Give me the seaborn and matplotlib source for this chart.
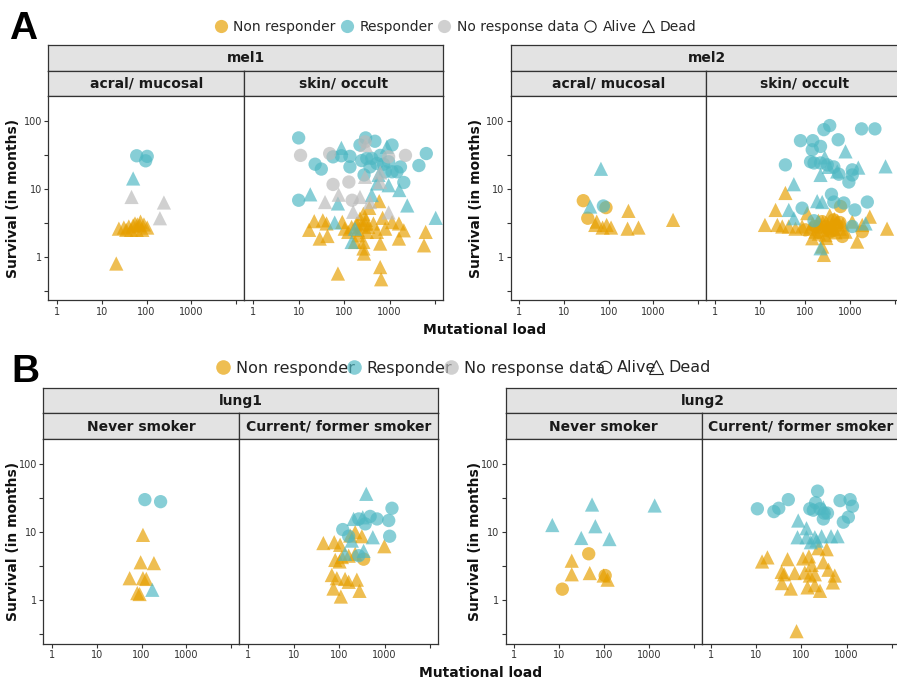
import numpy as np
import pandas as pd
import matplotlib
matplotlib.use("Agg")
import matplotlib.pyplot as plt
import seaborn as sns
from matplotlib.lines import Line2D
from matplotlib.ticker import FixedLocator, FixedFormatter, NullLocator

# ---------------- data: (mutational load, survival in months) ----------------
mel1_acral_nr_dead = [(21, 0.8), (24, 2.6), (31, 2.7), (40, 2.8), (50, 2.9), (62, 3.0), (73, 3.3),
                      (87, 3.0), (103, 2.7), (45, 2.5), (60, 2.5), (80, 2.5), (35, 2.5), (70, 2.9), (55, 3.1)]
mel1_acral_r_alive = [(60, 30.6), (103, 30), (95, 25.8)]
mel1_acral_r_dead = [(50, 14.2)]
mel1_acral_na_dead = [(46, 7.6), (243, 6.3), (198, 3.7)]

mel1_skin_r_alive = [(10, 56), (10, 6.8), (23, 23), (31.5, 19.5), (57, 29.5), (87, 30.6), (134, 30), (134, 21),
                     (223, 44), (297, 56), (475, 50), (620, 31), (405, 28), (315, 28), (243, 26), (525, 23.6),
                     (370, 21), (274, 16), (1130, 44), (950, 25), (1730, 21), (1450, 17.8), (2050, 12.4),
                     (4400, 22), (6400, 33), (735, 23), (800, 17.8), (1130, 17.8)]
mel1_skin_r_dead = [(18, 8.3), (87, 40), (73, 6.1), (62, 3.2), (146, 1.66), (525, 12), (570, 16), (870, 41.5),
                    (950, 11.3), (1630, 9.6), (2440, 5.7), (10300, 3.75), (405, 8.1), (173, 2.6)]
mel1_skin_na_alive = [(11, 31), (48, 33), (57, 11.6), (127, 12.6), (150, 6.8), (2230, 31), (288, 49), (950, 29.5)]
mel1_skin_na_dead = [(38, 6.4), (76, 8.2), (158, 4.6), (223, 7.6), (288, 15), (620, 12.6), (370, 6.4),
                     (950, 4.5), (297, 44), (620, 17.4)]
mel1_skin_nr_dead = [(17, 2.5), (22, 3.35), (29, 1.86), (43, 2.03), (34, 3.45), (41, 3.1), (73, 0.57), (91, 3.27),
                     (103, 2.6), (123, 2.33), (146, 2.76), (188, 3.1), (223, 3.66), (265, 4.3), (288, 3.1),
                     (340, 2.76), (205, 2.08), (265, 1.66), (274, 1.12), (265, 1.33), (440, 3.1), (525, 2.33),
                     (620, 1.57), (620, 0.71), (650, 0.47), (590, 6.6), (357, 5.25), (700, 3.75), (800, 2.6),
                     (1130, 3.25), (1600, 3.1), (2050, 2.46), (1600, 1.86), (6200, 2.33), (5700, 1.48),
                     (315, 2.33), (173, 1.66), (240, 2.9), (300, 3.5), (200, 2.5)]

mel2_acral_r_alive = [(76, 5.6)]
mel2_acral_r_dead = [(67, 19.7), (38.5, 5.5)]
mel2_acral_nr_alive = [(27, 6.7), (34, 3.7), (87, 5.3)]
mel2_acral_nr_dead = [(54, 3.3), (50, 2.95), (73, 2.7), (90, 2.95), (113, 2.7), (277, 4.75), (265, 2.6),
                      (465, 2.7), (2770, 3.5)]

mel2_skin_r_alive = [(37, 22.5), (80, 51), (150, 51), (146, 37.5), (223, 42), (265, 74), (357, 85), (550, 52.6),
                     (1820, 76), (3600, 76), (134, 25), (160, 24), (223, 24), (315, 22.5), (440, 21), (570, 16.4),
                     (950, 12.6), (1130, 16), (1130, 19), (390, 8.3), (440, 6.4), (735, 6.2), (1290, 4.9),
                     (2440, 6.4), (87, 5.2), (160, 3.4), (1130, 2.8)]
mel2_skin_r_dead = [(57, 11.7), (223, 16), (277, 29), (800, 35.5), (1540, 20.5), (6200, 21.4), (44, 4.9),
                    (188, 6.6), (243, 6.4), (57, 3.7), (223, 1.34), (2230, 3.1), (340, 21), (525, 18)]
mel2_skin_nr_alive = [(620, 5.5), (173, 2.8), (288, 2.8), (370, 2.35), (680, 2.0), (103, 2.5), (440, 3.5),
                      (1880, 2.35), (243, 3.3), (330, 2.6), (520, 2.9), (200, 2.3), (600, 3.2)]
mel2_skin_nr_dead = [(13, 2.95), (22.4, 4.9), (37, 8.7), (24.5, 2.95), (31.5, 2.8), (44, 2.8), (62, 2.6),
                     (87, 2.8), (113, 4.4), (146, 1.88), (205, 2.2), (243, 1.42), (265, 1.07), (315, 2.8),
                     (440, 2.6), (357, 4.1), (525, 3.3), (800, 2.35), (1130, 3.3), (1450, 1.68), (1880, 2.95),
                     (2770, 3.9), (6700, 2.6), (223, 2.8), (173, 2.35), (288, 2.1), (150, 3.1), (250, 3.2),
                     (400, 3.0), (480, 2.3), (600, 2.6), (350, 2.5), (200, 3.4), (130, 2.6), (300, 1.9),
                     (700, 3.0), (450, 3.6)]

lung1_never_r_alive = [(118, 30), (265, 28)]
lung1_never_r_dead = [(173, 1.42)]
lung1_never_nr_dead = [(107, 9.1), (95, 3.6), (188, 3.5), (54, 2.1), (107, 2.1), (127, 2.05), (80, 1.27), (90, 1.23)]

lung1_smoker_r_alive = [(1450, 22.4), (1230, 14.8), (680, 15.6), (480, 17), (375, 13.2), (270, 15.6), (120, 10.9),
                        (1290, 8.7), (162, 8.7), (270, 4.5)]
lung1_smoker_r_dead = [(395, 36.5), (208, 15.6), (330, 16.5), (550, 8.4), (190, 7.5), (345, 5.3), (135, 4.8)]
lung1_smoker_nr_alive = [(345, 4.0)]
lung1_smoker_nr_dead = [(45, 6.9), (78, 7.1), (105, 6.5), (175, 8.9), (225, 10), (316, 8.7), (985, 6.2), (82, 3.9),
                        (115, 4.3), (162, 4.5), (225, 4.8), (102, 3.7), (69, 2.34), (89, 2.1), (135, 2.05),
                        (162, 1.86), (245, 2.0), (75, 1.48), (280, 1.37), (109, 1.13)]

lung2_never_r_dead = [(7, 12.7), (54, 25.4), (64, 12.2), (31, 8.2), (132, 7.9), (1350, 24.6)]
lung2_never_nr_alive = [(45.5, 4.8), (11.7, 1.45), (106, 2.3)]
lung2_never_nr_dead = [(19, 3.8), (19, 2.4), (48, 2.5), (120, 2.0), (98, 2.3)]

lung2_smoker_r_alive = [(10.8, 22), (25, 20), (32, 22.4), (52, 30), (230, 40), (208, 27), (185, 21), (260, 22),
                        (322, 19), (308, 15.6), (380, 19), (720, 29), (1200, 30), (1350, 24), (1100, 16.6),
                        (850, 14), (155, 22)]
lung2_smoker_r_dead = [(86, 14.8), (308, 23), (131, 11.4), (83, 8.4), (131, 8.4), (200, 8.4), (282, 8.7),
                       (455, 8.7), (635, 8.7), (163, 7.1), (218, 7.5)]
lung2_smoker_nr_dead = [(13.7, 3.7), (18, 4.25), (50, 4.0), (37, 2.6), (42, 2.4), (37.5, 1.78), (59, 1.48),
                        (79, 0.35), (72, 2.5), (110, 4.1), (148, 4.4), (170, 3.3), (120, 2.55), (155, 2.3),
                        (200, 2.4), (240, 5.8), (365, 5.6), (308, 3.6), (400, 2.8), (550, 2.3), (500, 1.82),
                        (200, 1.66), (260, 1.37), (138, 1.54)]

responses = ["Non responder", "Responder", "No response data"]
statuses = ["Alive", "Dead"]
x_ticks = [1, 10, 100, 1000, 10000]
x_labels = ["1", "10", "100", "1000", ""]
y_ticks = [10 ** -0.5, 1, 10 ** 0.5, 10, 10 ** 1.5, 100]
y_labels = ["", "1", "", "10", "", "100"]


def frame(groups):
    rows = []
    for resp, status, pts in groups:
        for load, surv in pts:
            rows.append({"load": load, "surv": surv, "resp": resp, "status": status})
    return pd.DataFrame(rows)


NR, R, NA = responses
facet_frames = {
    "mel1_a": frame([(NR, "Dead", mel1_acral_nr_dead), (R, "Alive", mel1_acral_r_alive),
                     (R, "Dead", mel1_acral_r_dead), (NA, "Dead", mel1_acral_na_dead)]),
    "mel1_s": frame([(NR, "Dead", mel1_skin_nr_dead), (R, "Alive", mel1_skin_r_alive),
                     (R, "Dead", mel1_skin_r_dead), (NA, "Alive", mel1_skin_na_alive),
                     (NA, "Dead", mel1_skin_na_dead)]),
    "mel2_a": frame([(NR, "Dead", mel2_acral_nr_dead), (NR, "Alive", mel2_acral_nr_alive),
                     (R, "Alive", mel2_acral_r_alive), (R, "Dead", mel2_acral_r_dead)]),
    "mel2_s": frame([(NR, "Dead", mel2_skin_nr_dead), (NR, "Alive", mel2_skin_nr_alive),
                     (R, "Alive", mel2_skin_r_alive), (R, "Dead", mel2_skin_r_dead)]),
    "lung1_n": frame([(NR, "Dead", lung1_never_nr_dead), (R, "Alive", lung1_never_r_alive),
                      (R, "Dead", lung1_never_r_dead)]),
    "lung1_s": frame([(NR, "Dead", lung1_smoker_nr_dead), (NR, "Alive", lung1_smoker_nr_alive),
                      (R, "Alive", lung1_smoker_r_alive), (R, "Dead", lung1_smoker_r_dead)]),
    "lung2_n": frame([(NR, "Dead", lung2_never_nr_dead), (NR, "Alive", lung2_never_nr_alive),
                      (R, "Dead", lung2_never_r_dead)]),
    "lung2_s": frame([(NR, "Dead", lung2_smoker_nr_dead), (R, "Alive", lung2_smoker_r_alive),
                      (R, "Dead", lung2_smoker_r_dead)]),
}

# ---------------- styling / layout ----------------
sns.set_theme(style="white")
plt.rcParams["font.family"] = ["DejaVu Sans"]
palette = {NR: "#E69F00", R: "#4FB8C3", NA: "#BBBBBB"}
markers = {"Alive": "o", "Dead": "^"}
marker_sizes = {"Alive": 92, "Dead": 105}
ALPHA = 0.68
LINE = "#333333"

W, H = 897, 686
fig = plt.figure(figsize=(W / 100, H / 100), dpi=100)


def fxy(x, y):
    return x / W, 1 - y / H


def box(x0, x1, y0, y1):
    return [x0 / W, 1 - y1 / H, (x1 - x0) / W, (y1 - y0) / H]


panels = [
    ("mel1", ("acral/ mucosal", "skin/ occult"), ("mel1_a", "mel1_s"), (48.3, 244.3, 443.3), (45, 70.5, 95.7, 300.3), 13),
    ("mel2", ("acral/ mucosal", "skin/ occult"), ("mel2_a", "mel2_s"), (510.7, 706.0, 903.0), (45, 70.5, 95.7, 300.3), 476),
    ("lung1", ("Never smoker", "Current/ former smoker"), ("lung1_n", "lung1_s"), (43.3, 239.3, 438.3), (388.3, 413.3, 439.0, 643.5), 13),
    ("lung2", ("Never smoker", "Current/ former smoker"), ("lung2_n", "lung2_s"), (505.7, 701.7, 900.0), (388.3, 413.3, 439.0, 643.5), 475),
]

for title, ftitles, keys, (xl, xd, xr), (yt, ym, yp, yb), ylab_x in panels:
    sax = fig.add_axes(box(xl, xr, yt, ym))
    sax.set_facecolor("#E3E3E3")
    for sp in sax.spines.values():
        sp.set_color(LINE); sp.set_linewidth(0.9); sp.set_visible(True)
    sax.set_xticks([]); sax.set_yticks([])
    sax.text(0.5, 0.48, title, transform=sax.transAxes, ha="center", va="center",
             fontsize=10, fontweight="bold", color="#1A1A1A")
    for i, (x0, x1) in enumerate([(xl, xd), (xd, xr)]):
        fax = fig.add_axes(box(x0, x1, ym, yp))
        fax.set_facecolor("#E3E3E3")
        for sp in fax.spines.values():
            sp.set_color(LINE); sp.set_linewidth(0.9); sp.set_visible(True)
        fax.set_xticks([]); fax.set_yticks([])
        fax.text(0.5, 0.48, ftitles[i], transform=fax.transAxes, ha="center", va="center",
                 fontsize=10, fontweight="bold", color="#1A1A1A")

        ax = fig.add_axes(box(x0, x1, yp, yb))
        sns.scatterplot(data=facet_frames[keys[i]], x="load", y="surv", hue="resp", style="status",
                        size="status", sizes=marker_sizes, size_order=statuses,
                        hue_order=responses, style_order=statuses, palette=palette, markers=markers,
                        alpha=ALPHA, linewidth=0, legend=False, ax=ax)
        ax.set_xscale("log"); ax.set_yscale("log")
        ax.set_xlim(10 ** -0.195, 10 ** 4.18)
        ax.set_ylim(10 ** -0.637, 10 ** 2.368)
        ax.xaxis.set_major_locator(FixedLocator(x_ticks))
        ax.xaxis.set_major_formatter(FixedFormatter(x_labels))
        ax.yaxis.set_major_locator(FixedLocator(y_ticks))
        ax.yaxis.set_major_formatter(FixedFormatter(y_labels))
        ax.xaxis.set_minor_locator(NullLocator()); ax.yaxis.set_minor_locator(NullLocator())
        ax.set_xlabel(""); ax.set_ylabel("")
        ax.set_facecolor("white")
        for sp in ax.spines.values():
            sp.set_color(LINE); sp.set_linewidth(0.9); sp.set_visible(True)
        ax.tick_params(axis="both", which="major", direction="out", length=3, width=0.8, color=LINE,
                       labelsize=7, labelcolor="#333333", pad=1.5)
        ax.tick_params(axis="both", which="both", top=False, right=False, bottom=True)
        if i == 1:
            ax.tick_params(axis="y", left=False, labelleft=False)
        else:
            ax.tick_params(axis="y", left=True, labelleft=True)
        ax.grid(False)

    fig.text(*fxy(ylab_x, (yp + yb) / 2), "Survival (in months)", rotation=90, ha="center", va="center",
             fontsize=10, fontweight="bold", color="#111111")

fig.text(*fxy(485, 330), "Mutational load", ha="center", va="center", fontsize=10, fontweight="bold", color="#111111")
fig.text(*fxy(481, 673), "Mutational load", ha="center", va="center", fontsize=10, fontweight="bold", color="#111111")

fig.text(*fxy(9, 39), "A", fontsize=28, fontweight="bold", family="Liberation Sans", va="baseline", color="black")
fig.text(*fxy(11, 382), "B", fontsize=28, fontweight="bold", family="Liberation Sans", va="baseline", color="black")


def legend_handles(ms):
    hs = [Line2D([], [], ls="", marker="o", markersize=ms, markerfacecolor=palette[r], markeredgewidth=0,
                 alpha=ALPHA) for r in responses]
    hs.append(Line2D([], [], ls="", marker="o", markersize=ms * 0.85, markerfacecolor="none",
                     markeredgecolor="#222222", markeredgewidth=0.8))
    hs.append(Line2D([], [], ls="", marker="^", markersize=ms * 0.95, markerfacecolor="none",
                     markeredgecolor="#222222", markeredgewidth=0.8))
    return hs


labels = responses + statuses
fig.legend(legend_handles(9.5), labels, loc="center", bbox_to_anchor=fxy(455, 27), ncol=5, frameon=False,
           fontsize=10, handlelength=1.1, handletextpad=0.35, columnspacing=0.25, borderaxespad=0,
           borderpad=0)
fig.legend(legend_handles(10.5), labels, loc="center", bbox_to_anchor=fxy(463, 368), ncol=5, frameon=False,
           fontsize=11.5, handlelength=1.0, handletextpad=0.3, columnspacing=-0.55, borderaxespad=0,
           borderpad=0)

fig.savefig("out.png", dpi=100)
